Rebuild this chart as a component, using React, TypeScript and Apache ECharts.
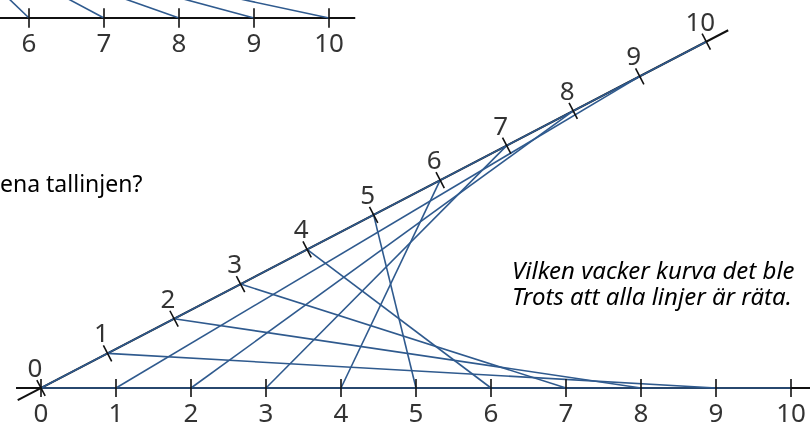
import React, { useEffect, useRef } from "react";
import * as echarts from "echarts";

// ---- data (number-line values) ----
const H_TICKS = [0, 1, 2, 3, 4, 5, 6, 7, 8, 9, 10];
const SLANT_TICKS = [0, 1, 2, 3, 4, 5, 6, 7, 8, 9, 10];
const STRING_FROM_SLANT = [0, 1, 2, 3, 4, 5, 6, 7, 8, 9, 10];
const STRING_TO_H = [10, 9, 8, 7, 6, 5, 4, 3, 2, 1, 0];
const TOP_TICKS = [6, 7, 8, 9, 10];
const TOP_LINE_START = [5.75, 6.55, 7.32, 8.11, 8.88];
const TEXT_QUESTION = "ena tallinjen?";
const TEXT_LINE1 = "Vilken vacker kurva det ble";
const TEXT_LINE2 = "Trots att alla linjer är räta.";

// ---- geometry / layout ----
const ANGLE = (27.5 * Math.PI) / 180;
const UX = Math.cos(ANGLE);
const UY = Math.sin(ANGLE);
const TICK = 0.12;
const TOP_Y = 4.933;
const TOP_SHIFT = -6.16;
const TOP_RISE = 0.24;
const X_MIN = -41 / 75;
const X_MAX = 769 / 75;
const Y_MIN = -37 / 75;
const Y_MAX = 388 / 75;

const BLUE = "#2f5a8e";
const FONT = "'Noto Sans', 'Open Sans', sans-serif";

const slant = (t: number) => [t * UX, t * UY];

export default function App() {
  const ref = useRef<HTMLDivElement>(null);
  useEffect(() => {
    if (!ref.current) return;
    const chart = echarts.init(ref.current, null, { renderer: "svg" });

    const axisSegs = [
      { coords: [[-0.333, 0], [X_MAX + 0.1, 0]] },
      { coords: [slant(-0.35), slant(10.33)] },
      { coords: [[5.6 + TOP_SHIFT, TOP_Y], [10.35 + TOP_SHIFT, TOP_Y]] },
    ];

    const stringSegs = STRING_FROM_SLANT.map((s, i) => ({
      coords: [slant(s), [STRING_TO_H[i], 0]],
    }));

    const topSegs = TOP_TICKS.map((t, i) => {
      const start = t - (t - TOP_LINE_START[i]) * 1.5;
      return {
        coords: [
          [start + TOP_SHIFT, TOP_Y + TOP_RISE * 1.5],
          [t + TOP_SHIFT, TOP_Y],
        ],
      };
    });

    const tickSegs: any[] = [];
    H_TICKS.forEach((v) => tickSegs.push({ coords: [[v, -TICK], [v, TICK]] }));
    SLANT_TICKS.forEach((t) => {
      const p = slant(t);
      tickSegs.push({
        coords: [
          [p[0] - TICK * UY, p[1] + TICK * UX],
          [p[0] + TICK * UY, p[1] - TICK * UX],
        ],
      });
    });
    TOP_TICKS.forEach((v) =>
      tickSegs.push({
        coords: [
          [v + TOP_SHIFT, TOP_Y - 0.13],
          [v + TOP_SHIFT, TOP_Y + 0.13],
        ],
      })
    );

    const labels: any[] = [];
    H_TICKS.forEach((v) => labels.push({ name: String(v), value: [v, -0.32] }));
    SLANT_TICKS.forEach((t) => {
      const p = slant(t);
      labels.push({ name: String(t), value: [p[0] - 0.08, p[1] + 0.28] });
    });
    TOP_TICKS.forEach((v) =>
      labels.push({ name: String(v), value: [v + TOP_SHIFT, TOP_Y - 0.32] })
    );

    chart.setOption({
      animation: false,
      grid: { left: 0, right: 0, top: 0, bottom: 0 },
      xAxis: { type: "value", min: X_MIN, max: X_MAX, show: false },
      yAxis: { type: "value", min: Y_MIN, max: Y_MAX, show: false },
      graphic: [
        {
          type: "text",
          left: 0,
          top: 171,
          style: { text: TEXT_QUESTION, font: `23px ${FONT}`, fill: "#000" },
        },
        {
          type: "text",
          left: 512,
          top: 256,
          style: {
            text: TEXT_LINE1,
            font: `italic 24px ${FONT}`,
            lineHeight: 26,
            fill: "#000",
          },
        },
        {
          type: "text",
          left: 512,
          top: 282,
          style: {
            text: TEXT_LINE2,
            font: `italic 24px ${FONT}`,
            lineHeight: 26,
            fill: "#000",
          },
        },
      ],
      series: [
        {
          type: "lines",
          coordinateSystem: "cartesian2d",
          z: 1,
          lineStyle: { color: "#111", width: 2, opacity: 1 },
          data: axisSegs,
          silent: true,
        },
        {
          type: "lines",
          coordinateSystem: "cartesian2d",
          z: 2,
          lineStyle: { color: BLUE, width: 1.6, opacity: 1 },
          data: [...stringSegs, ...topSegs],
          silent: true,
        },
        {
          type: "lines",
          coordinateSystem: "cartesian2d",
          z: 3,
          lineStyle: { color: "#111", width: 1.6, opacity: 1 },
          data: tickSegs,
          silent: true,
        },
        {
          type: "scatter",
          z: 4,
          symbolSize: 1,
          itemStyle: { color: "rgba(0,0,0,0)" },
          data: labels,
          label: {
            show: true,
            position: "inside",
            formatter: "{b}",
            fontFamily: FONT,
            fontSize: 26,
            lineHeight: 22,
            color: "#000",
          },
          silent: true,
        },
      ],
    });
    return () => chart.dispose();
  }, []);
  return (
    <div
      ref={ref}
      style={{ position: "fixed", left: 0, top: 0, width: 810, height: 425 }}
    />
  );
}
